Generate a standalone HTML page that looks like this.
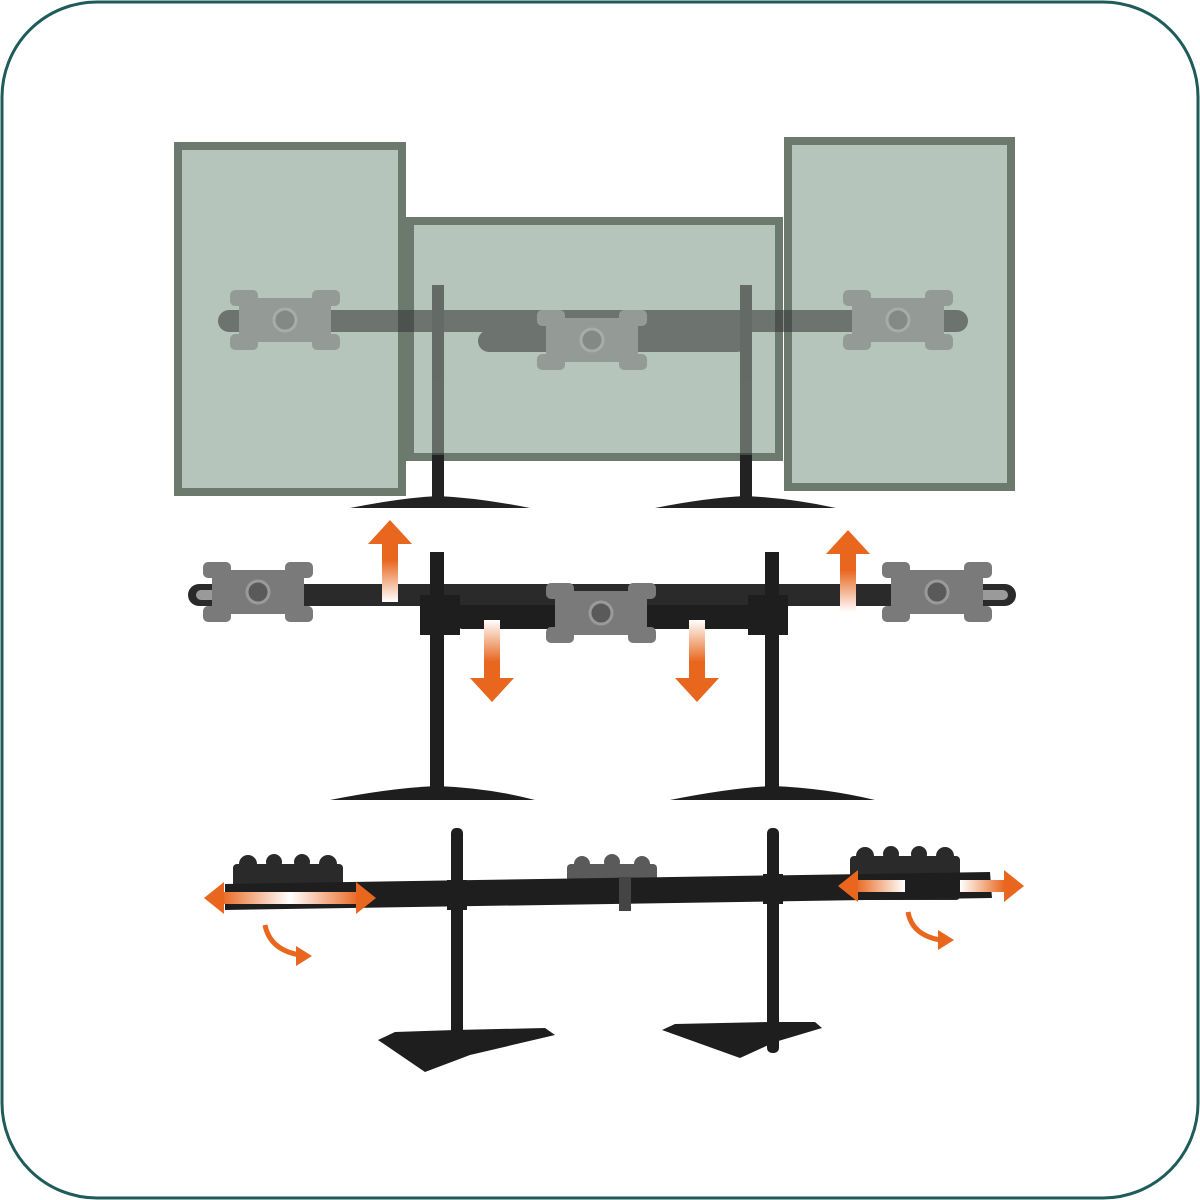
<!DOCTYPE html>
<html><head><meta charset="utf-8"><style>html,body{margin:0;padding:0;background:#fff}svg{display:block}</style></head>
<body>
<svg width="1200" height="1200" viewBox="0 0 1200 1200" xmlns="http://www.w3.org/2000/svg">
<defs>
<linearGradient id="gu" x1="0" y1="1" x2="0" y2="0"><stop offset="0" stop-color="#fff"/><stop offset="0.7" stop-color="#e8661e"/></linearGradient>
<linearGradient id="gl" x1="0" y1="0" x2="1" y2="0"><stop offset="0" stop-color="#e8661e"/><stop offset="0.5" stop-color="#fff"/><stop offset="1" stop-color="#e8661e"/></linearGradient>
<linearGradient id="gr1" x1="0" y1="0" x2="1" y2="0"><stop offset="0" stop-color="#e8661e"/><stop offset="1" stop-color="#fff"/></linearGradient>
<linearGradient id="gr2" x1="0" y1="0" x2="1" y2="0"><stop offset="0" stop-color="#fff"/><stop offset="1" stop-color="#e8661e"/></linearGradient>
<g id="plate">
<rect x="-46" y="-22" width="92" height="44" rx="4" fill="#7a7a7a"/>
<rect x="-55" y="-30" width="28" height="16" rx="5" fill="#7a7a7a"/>
<rect x="27" y="-30" width="28" height="16" rx="5" fill="#7a7a7a"/>
<rect x="-55" y="14" width="28" height="16" rx="5" fill="#7a7a7a"/>
<rect x="27" y="14" width="28" height="16" rx="5" fill="#7a7a7a"/>
<circle cx="0" cy="0" r="11" fill="#5a5a5a" stroke="#9a9a9a" stroke-width="3"/>
</g>
<g id="arrowV">
<rect x="-8" y="-30" width="16" height="60" fill="url(#gu)"/>
<polygon points="-22,-28 22,-28 0,-52" fill="#e8661e"/>
</g>
<g id="bmount">
<rect x="-55" y="-14" width="110" height="44" rx="4" fill="#2a2a2a"/>
<circle cx="-40" cy="-14" r="9" fill="#2a2a2a"/><circle cx="-14" cy="-16" r="8" fill="#2a2a2a"/>
<circle cx="14" cy="-16" r="8" fill="#2a2a2a"/><circle cx="40" cy="-14" r="9" fill="#2a2a2a"/>
</g>
</defs>
<rect x="2" y="2" width="1196" height="1196" rx="95" fill="#fff" stroke="#1e5c5c" stroke-width="3"/>

<!-- TOP -->
<rect x="178" y="146" width="224" height="346" fill="#b5c5bb" stroke="#6c7a6e" stroke-width="8"/>
<rect x="788" y="141" width="223" height="346" fill="#b5c5bb" stroke="#6c7a6e" stroke-width="8"/>
<rect x="410" y="221" width="369" height="236" fill="#b5c5bb" stroke="#6c7a6e" stroke-width="8"/>
<g opacity="0.55">
<rect x="218" y="310" width="750" height="22" rx="11" fill="#333"/>
<rect x="478" y="330" width="270" height="22" rx="11" fill="#333"/>
<rect x="432" y="285" width="12" height="215" fill="#222"/>
<rect x="740" y="285" width="12" height="215" fill="#222"/>
<use href="#plate" x="285" y="320"/>
<use href="#plate" x="592" y="340"/>
<use href="#plate" x="898" y="320"/>
</g>
<rect x="432" y="455" width="12" height="45" fill="#222"/>
<rect x="740" y="455" width="12" height="45" fill="#222"/>
<path d="M350 508 Q400 498 438 496 Q480 498 530 508 Z" fill="#222"/>
<path d="M655 508 Q705 498 745 496 Q790 498 836 508 Z" fill="#222"/>

<!-- MIDDLE -->
<rect x="188" y="584" width="828" height="22" rx="11" fill="#2a2a2a"/>
<rect x="196" y="590" width="30" height="10" rx="5" fill="#9a9a9a"/>
<rect x="978" y="590" width="30" height="10" rx="5" fill="#9a9a9a"/>
<rect x="430" y="552" width="14" height="245" fill="#1e1e1e"/>
<rect x="765" y="552" width="14" height="245" fill="#1e1e1e"/>
<rect x="420" y="595" width="40" height="40" fill="#1e1e1e"/>
<rect x="748" y="595" width="40" height="40" fill="#1e1e1e"/>
<rect x="455" y="605" width="300" height="24" rx="8" fill="#1e1e1e"/>
<use href="#plate" x="258" y="592"/>
<use href="#plate" x="601" y="613"/>
<use href="#plate" x="937" y="592"/>
<path d="M330 800 Q390 788 437 786 Q490 788 535 800 Z" fill="#1e1e1e"/>
<path d="M670 800 Q730 788 772 786 Q825 788 875 800 Z" fill="#1e1e1e"/>
<use href="#arrowV" x="390" y="572"/>
<use href="#arrowV" x="848" y="582"/>
<use href="#arrowV" x="492" y="650" transform="rotate(180 492 650)"/>
<use href="#arrowV" x="697" y="650" transform="rotate(180 697 650)"/>

<!-- BOTTOM -->
<use href="#bmount" x="288" y="878"/>
<use href="#bmount" x="905" y="870"/>
<g transform="translate(612 876)"><rect x="-45" y="-12" width="90" height="36" rx="4" fill="#5a5a5a"/><circle cx="-30" cy="-12" r="8" fill="#5a5a5a"/><circle cx="0" cy="-14" r="8" fill="#5a5a5a"/><circle cx="30" cy="-12" r="8" fill="#5a5a5a"/></g>
<polygon points="225,884 990,872 992,898 225,910" fill="#1e1e1e"/>
<rect x="619" y="877" width="12" height="34" fill="#444"/>
<rect x="451" y="828" width="12" height="225" rx="5" fill="#1e1e1e"/>
<rect x="767" y="828" width="12" height="225" rx="5" fill="#1e1e1e"/>
<rect x="447" y="880" width="20" height="30" fill="#1e1e1e"/>
<rect x="763" y="874" width="20" height="30" fill="#1e1e1e"/>
<path d="M378 1040 L395 1032 L455 1030 L545 1028 L555 1035 L470 1055 L425 1072 Z" fill="#1e1e1e"/>
<path d="M662 1030 L675 1024 L770 1022 L815 1022 L822 1028 L775 1042 L740 1058 Z" fill="#1e1e1e"/>
<rect x="220" y="892" width="140" height="12" fill="url(#gl)"/>
<polygon points="204,898 224,882 224,914" fill="#e8661e"/>
<polygon points="376,898 356,882 356,914" fill="#e8661e"/>
<rect x="855" y="880" width="50" height="12" fill="url(#gr1)"/>
<rect x="960" y="880" width="45" height="12" fill="url(#gr2)"/>
<polygon points="838,886 858,870 858,902" fill="#e8661e"/>
<polygon points="1024,886 1004,870 1004,902" fill="#e8661e"/>
<path d="M265 925 Q270 950 300 955" fill="none" stroke="#e8661e" stroke-width="5"/>
<polygon points="312,956 296,946 296,966" fill="#e8661e"/>
<path d="M908 912 Q912 935 940 940" fill="none" stroke="#e8661e" stroke-width="5"/>
<polygon points="954,940 938,930 938,950" fill="#e8661e"/>
</svg>
</body></html>
